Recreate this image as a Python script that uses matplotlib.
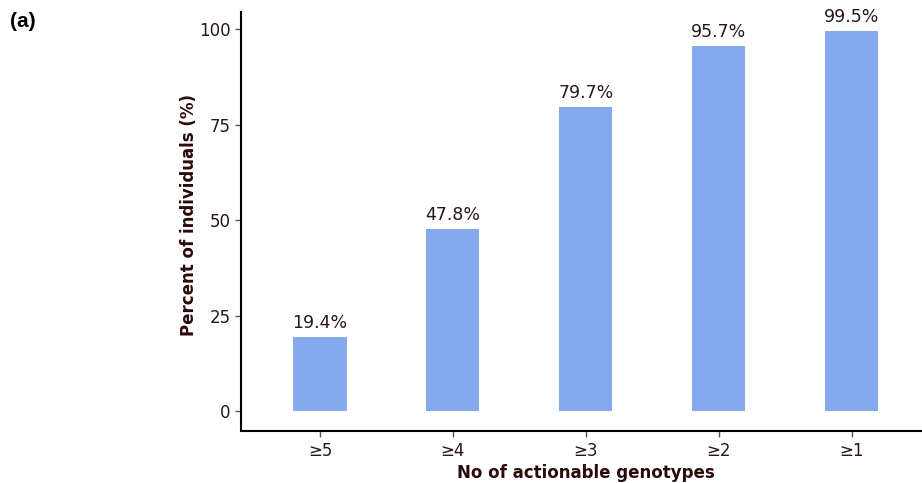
import matplotlib
matplotlib.use("Agg")
import matplotlib.pyplot as plt

categories = ["\u22655", "\u22654", "\u22653", "\u22652", "\u22651"]
percent = [19.4, 47.8, 79.7, 95.7, 99.5]
yticks = [0, 25, 50, 75, 100]

bar_color = "#84a9ee"
text_color = "#2b1717"

fig = plt.figure(figsize=(9.22, 4.83), dpi=100)
ax = fig.add_axes([0.2614, 0.1077, 0.7386, 0.8675])

x = list(range(1, len(categories) + 1))
ax.bar(x, percent, width=0.4, color=bar_color, zorder=2)
for xi, v in zip(x, percent):
    ax.text(xi, v + 1.2, "{:.1f}%".format(v), ha="center", va="bottom",
            fontsize=12.5, color=text_color)

ax.set_xlim(0.406, 5.53)
ax.set_ylim(-5.2, 104.5)
ax.set_xticks(x)
ax.set_xticklabels(categories)
ax.set_yticks(yticks)

ax.spines["top"].set_visible(False)
ax.spines["right"].set_visible(False)
ax.spines["left"].set_linewidth(1.5)
ax.spines["bottom"].set_linewidth(1.5)
ax.tick_params(axis="both", colors="#555555", length=4, width=1,
               labelsize=12, labelcolor=text_color)
ax.tick_params(axis="x", pad=4)

ax.set_xlabel("No of actionable genotypes", fontsize=12, fontweight="bold",
              color="#2a0a0a")
ax.xaxis.set_label_coords(0.507, -0.1, transform=ax.transAxes)
ax.xaxis.label.set_va("center")
ax.set_ylabel("Percent of individuals (%)", fontsize=12, fontweight="bold",
              color="#2a0a0a", labelpad=0)
ax.yaxis.set_label_coords(-0.077, 0.515, transform=ax.transAxes)
ax.yaxis.label.set_ha("center")
ax.yaxis.label.set_va("center")

fig.text(0.011, 0.955, "(a)", fontsize=15, fontweight="bold",
         family="Liberation Sans", ha="left", va="center")

fig.savefig("out.png", dpi=100)
